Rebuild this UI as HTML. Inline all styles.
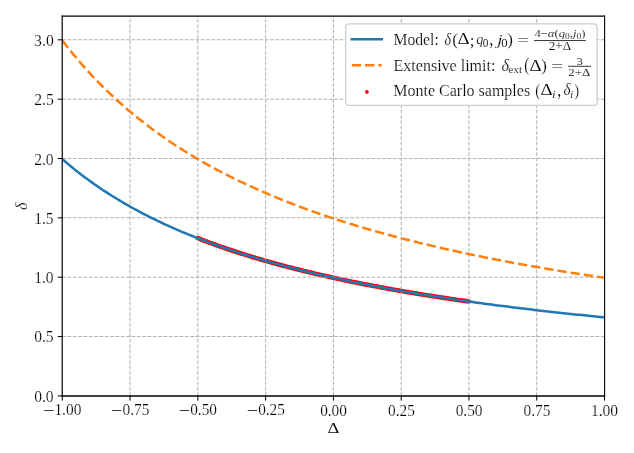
<!DOCTYPE html>
<html><head><meta charset="utf-8"><title>plot</title>
<style>html,body{margin:0;padding:0;background:#fff;}svg{display:block;}</style>
</head><body>
<svg width="634" height="453" viewBox="0 0 634 453">
<rect x="0" y="0" width="634" height="453" fill="#ffffff"/>
<defs><clipPath id="ax"><rect x="62.30" y="16.06" width="542.20" height="379.84"/></clipPath></defs>
<g clip-path="url(#ax)">
<path d="M197.85,238.23 L200.13,239.12 L202.41,239.99 L204.68,240.85 L206.96,241.70 L209.24,242.55 L211.52,243.38 L213.80,244.21 L216.08,245.02 L218.35,245.83 L220.63,246.63 L222.91,247.42 L225.19,248.20 L227.47,248.98 L229.74,249.74 L232.02,250.50 L234.30,251.25 L236.58,252.00 L238.86,252.73 L241.13,253.46 L243.41,254.18 L245.69,254.89 L247.97,255.60 L250.25,256.30 L252.53,256.99 L254.80,257.68 L257.08,258.36 L259.36,259.03 L261.64,259.69 L263.92,260.35 L266.19,261.01 L268.47,261.65 L270.75,262.29 L273.03,262.93 L275.31,263.56 L277.59,264.18 L279.86,264.80 L282.14,265.41 L284.42,266.01 L286.70,266.61 L288.98,267.21 L291.25,267.80 L293.53,268.38 L295.81,268.96 L298.09,269.53 L300.37,270.10 L302.64,270.66 L304.92,271.22 L307.20,271.77 L309.48,272.32 L311.76,272.86 L314.04,273.40 L316.31,273.94 L318.59,274.47 L320.87,274.99 L323.15,275.51 L325.43,276.03 L327.70,276.54 L329.98,277.05 L332.26,277.55 L334.54,278.05 L336.82,278.54 L339.10,279.03 L341.37,279.52 L343.65,280.00 L345.93,280.48 L348.21,280.96 L350.49,281.43 L352.76,281.89 L355.04,282.36 L357.32,282.82 L359.60,283.27 L361.88,283.72 L364.16,284.17 L366.43,284.62 L368.71,285.06 L370.99,285.50 L373.27,285.93 L375.55,286.36 L377.82,286.79 L380.10,287.21 L382.38,287.63 L384.66,288.05 L386.94,288.47 L389.21,288.88 L391.49,289.29 L393.77,289.69 L396.05,290.09 L398.33,290.49 L400.61,290.89 L402.88,291.28 L405.16,291.67 L407.44,292.06 L409.72,292.45 L412.00,292.83 L414.27,293.21 L416.55,293.58 L418.83,293.96 L421.11,294.33 L423.39,294.70 L425.67,295.06 L427.94,295.42 L430.22,295.78 L432.50,296.14 L434.78,296.50 L437.06,296.85 L439.33,297.20 L441.61,297.55 L443.89,297.89 L446.17,298.24 L448.45,298.58 L450.72,298.92 L453.00,299.25 L455.28,299.59 L457.56,299.92 L459.84,300.25 L462.12,300.57 L464.39,300.90 L466.67,301.22 L468.95,301.54" stroke="#ff0000" stroke-width="4.6" stroke-linecap="round" fill="none"/>
<path d="M130.07,395.90V16.06 M197.85,395.90V16.06 M265.62,395.90V16.06 M333.40,395.90V16.06 M401.18,395.90V16.06 M468.95,395.90V16.06 M536.73,395.90V16.06 M62.30,336.55H604.50 M62.30,277.20H604.50 M62.30,217.85H604.50 M62.30,158.50H604.50 M62.30,99.15H604.50 M62.30,39.80H604.50" stroke="#b0b0b0" stroke-width="1.006" stroke-dasharray="3.722 1.610" fill="none"/>
<path d="M62.30,159.10 L64.57,161.07 L66.84,163.01 L69.11,164.91 L71.37,166.79 L73.64,168.63 L75.91,170.45 L78.18,172.24 L80.45,174.00 L82.72,175.73 L84.99,177.43 L87.25,179.11 L89.52,180.76 L91.79,182.39 L94.06,184.00 L96.33,185.58 L98.60,187.13 L100.87,188.67 L103.14,190.18 L105.40,191.67 L107.67,193.14 L109.94,194.58 L112.21,196.01 L114.48,197.42 L116.75,198.80 L119.02,200.17 L121.28,201.52 L123.55,202.85 L125.82,204.17 L128.09,205.46 L130.36,206.74 L132.63,208.00 L134.90,209.24 L137.16,210.47 L139.43,211.68 L141.70,212.88 L143.97,214.06 L146.24,215.23 L148.51,216.38 L150.78,217.51 L153.04,218.64 L155.31,219.74 L157.58,220.84 L159.85,221.92 L162.12,222.99 L164.39,224.04 L166.66,225.08 L168.93,226.11 L171.19,227.13 L173.46,228.14 L175.73,229.13 L178.00,230.11 L180.27,231.08 L182.54,232.04 L184.81,232.99 L187.07,233.93 L189.34,234.85 L191.61,235.77 L193.88,236.67 L196.15,237.57 L198.42,238.45 L200.69,239.33 L202.95,240.20 L205.22,241.05 L207.49,241.90 L209.76,242.74 L212.03,243.57 L214.30,244.39 L216.57,245.20 L218.83,246.00 L221.10,246.79 L223.37,247.58 L225.64,248.36 L227.91,249.13 L230.18,249.89 L232.45,250.64 L234.72,251.39 L236.98,252.13 L239.25,252.86 L241.52,253.58 L243.79,254.30 L246.06,255.01 L248.33,255.71 L250.60,256.40 L252.86,257.09 L255.13,257.77 L257.40,258.45 L259.67,259.12 L261.94,259.78 L264.21,260.44 L266.48,261.09 L268.74,261.73 L271.01,262.37 L273.28,263.00 L275.55,263.62 L277.82,264.24 L280.09,264.86 L282.36,265.46 L284.62,266.07 L286.89,266.66 L289.16,267.25 L291.43,267.84 L293.70,268.42 L295.97,269.00 L298.24,269.57 L300.51,270.13 L302.77,270.69 L305.04,271.25 L307.31,271.80 L309.58,272.35 L311.85,272.89 L314.12,273.42 L316.39,273.95 L318.65,274.48 L320.92,275.00 L323.19,275.52 L325.46,276.04 L327.73,276.55 L330.00,277.05 L332.27,277.55 L334.53,278.05 L336.80,278.54 L339.07,279.03 L341.34,279.51 L343.61,279.99 L345.88,280.47 L348.15,280.94 L350.41,281.41 L352.68,281.88 L354.95,282.34 L357.22,282.80 L359.49,283.25 L361.76,283.70 L364.03,284.15 L366.29,284.59 L368.56,285.03 L370.83,285.47 L373.10,285.90 L375.37,286.33 L377.64,286.75 L379.91,287.18 L382.18,287.60 L384.44,288.01 L386.71,288.43 L388.98,288.84 L391.25,289.24 L393.52,289.65 L395.79,290.05 L398.06,290.45 L400.32,290.84 L402.59,291.23 L404.86,291.62 L407.13,292.01 L409.40,292.39 L411.67,292.77 L413.94,293.15 L416.20,293.53 L418.47,293.90 L420.74,294.27 L423.01,294.64 L425.28,295.00 L427.55,295.36 L429.82,295.72 L432.08,296.08 L434.35,296.43 L436.62,296.78 L438.89,297.13 L441.16,297.48 L443.43,297.82 L445.70,298.17 L447.97,298.51 L450.23,298.84 L452.50,299.18 L454.77,299.51 L457.04,299.84 L459.31,300.17 L461.58,300.50 L463.85,300.82 L466.11,301.14 L468.38,301.46 L470.65,301.78 L472.92,302.09 L475.19,302.41 L477.46,302.72 L479.73,303.03 L481.99,303.33 L484.26,303.64 L486.53,303.94 L488.80,304.24 L491.07,304.54 L493.34,304.84 L495.61,305.13 L497.87,305.43 L500.14,305.72 L502.41,306.01 L504.68,306.30 L506.95,306.58 L509.22,306.87 L511.49,307.15 L513.76,307.43 L516.02,307.71 L518.29,307.98 L520.56,308.26 L522.83,308.53 L525.10,308.81 L527.37,309.08 L529.64,309.34 L531.90,309.61 L534.17,309.88 L536.44,310.14 L538.71,310.40 L540.98,310.66 L543.25,310.92 L545.52,311.18 L547.78,311.43 L550.05,311.69 L552.32,311.94 L554.59,312.19 L556.86,312.44 L559.13,312.69 L561.40,312.94 L563.66,313.18 L565.93,313.43 L568.20,313.67 L570.47,313.91 L572.74,314.15 L575.01,314.39 L577.28,314.63 L579.55,314.86 L581.81,315.10 L584.08,315.33 L586.35,315.56 L588.62,315.79 L590.89,316.02 L593.16,316.25 L595.43,316.47 L597.69,316.70 L599.96,316.92 L602.23,317.15 L604.50,317.37" stroke="#1f77b4" stroke-width="2.515" fill="none" stroke-linejoin="round"/>
<path d="M62.30,40.40 L64.57,43.36 L66.84,46.26 L69.11,49.12 L71.37,51.93 L73.64,54.70 L75.91,57.42 L78.18,60.11 L80.45,62.74 L82.72,65.34 L84.99,67.90 L87.25,70.42 L89.52,72.90 L91.79,75.34 L94.06,77.74 L96.33,80.11 L98.60,82.45 L100.87,84.75 L103.14,87.02 L105.40,89.25 L107.67,91.45 L109.94,93.62 L112.21,95.77 L114.48,97.88 L116.75,99.96 L119.02,102.01 L121.28,104.03 L123.55,106.03 L125.82,108.00 L128.09,109.94 L130.36,111.86 L132.63,113.75 L134.90,115.62 L137.16,117.46 L139.43,119.28 L141.70,121.07 L143.97,122.84 L146.24,124.59 L148.51,126.32 L150.78,128.02 L153.04,129.70 L155.31,131.37 L157.58,133.01 L159.85,134.63 L162.12,136.23 L164.39,137.81 L166.66,139.38 L168.93,140.92 L171.19,142.45 L173.46,143.95 L175.73,145.44 L178.00,146.92 L180.27,148.37 L182.54,149.81 L184.81,151.23 L187.07,152.64 L189.34,154.03 L191.61,155.40 L193.88,156.76 L196.15,158.10 L198.42,159.43 L200.69,160.74 L202.95,162.04 L205.22,163.33 L207.49,164.60 L209.76,165.86 L212.03,167.10 L214.30,168.33 L216.57,169.55 L218.83,170.75 L221.10,171.94 L223.37,173.12 L225.64,174.29 L227.91,175.44 L230.18,176.58 L232.45,177.71 L234.72,178.83 L236.98,179.94 L239.25,181.04 L241.52,182.12 L243.79,183.20 L246.06,184.26 L248.33,185.31 L250.60,186.36 L252.86,187.39 L255.13,188.41 L257.40,189.42 L259.67,190.43 L261.94,191.42 L264.21,192.40 L266.48,193.38 L268.74,194.34 L271.01,195.30 L273.28,196.25 L275.55,197.18 L277.82,198.11 L280.09,199.03 L282.36,199.95 L284.62,200.85 L286.89,201.75 L289.16,202.63 L291.43,203.51 L293.70,204.38 L295.97,205.25 L298.24,206.10 L300.51,206.95 L302.77,207.79 L305.04,208.62 L307.31,209.45 L309.58,210.27 L311.85,211.08 L314.12,211.88 L316.39,212.68 L318.65,213.47 L320.92,214.26 L323.19,215.03 L325.46,215.80 L327.73,216.57 L330.00,217.33 L332.27,218.08 L334.53,218.82 L336.80,219.56 L339.07,220.29 L341.34,221.02 L343.61,221.74 L345.88,222.46 L348.15,223.16 L350.41,223.87 L352.68,224.56 L354.95,225.26 L357.22,225.94 L359.49,226.62 L361.76,227.30 L364.03,227.97 L366.29,228.63 L368.56,229.29 L370.83,229.95 L373.10,230.60 L375.37,231.24 L377.64,231.88 L379.91,232.52 L382.18,233.15 L384.44,233.77 L386.71,234.39 L388.98,235.00 L391.25,235.62 L393.52,236.22 L395.79,236.82 L398.06,237.42 L400.32,238.01 L402.59,238.60 L404.86,239.18 L407.13,239.76 L409.40,240.34 L411.67,240.91 L413.94,241.48 L416.20,242.04 L418.47,242.60 L420.74,243.15 L423.01,243.70 L425.28,244.25 L427.55,244.79 L429.82,245.33 L432.08,245.87 L434.35,246.40 L436.62,246.93 L438.89,247.45 L441.16,247.97 L443.43,248.49 L445.70,249.00 L447.97,249.51 L450.23,250.01 L452.50,250.52 L454.77,251.02 L457.04,251.51 L459.31,252.00 L461.58,252.49 L463.85,252.98 L466.11,253.46 L468.38,253.94 L470.65,254.42 L472.92,254.89 L475.19,255.36 L477.46,255.83 L479.73,256.29 L481.99,256.75 L484.26,257.21 L486.53,257.66 L488.80,258.11 L491.07,258.56 L493.34,259.01 L495.61,259.45 L497.87,259.89 L500.14,260.33 L502.41,260.76 L504.68,261.19 L506.95,261.62 L509.22,262.05 L511.49,262.47 L513.76,262.89 L516.02,263.31 L518.29,263.73 L520.56,264.14 L522.83,264.55 L525.10,264.96 L527.37,265.36 L529.64,265.77 L531.90,266.17 L534.17,266.56 L536.44,266.96 L538.71,267.35 L540.98,267.74 L543.25,268.13 L545.52,268.52 L547.78,268.90 L550.05,269.28 L552.32,269.66 L554.59,270.04 L556.86,270.41 L559.13,270.79 L561.40,271.16 L563.66,271.53 L565.93,271.89 L568.20,272.25 L570.47,272.62 L572.74,272.98 L575.01,273.33 L577.28,273.69 L579.55,274.04 L581.81,274.39 L584.08,274.74 L586.35,275.09 L588.62,275.44 L590.89,275.78 L593.16,276.12 L595.43,276.46 L597.69,276.80 L599.96,277.13 L602.23,277.47 L604.50,277.80" stroke="#ff7f0e" stroke-width="2.515" fill="none" stroke-dasharray="9.306 4.024"/>
</g>
<path d="M61.6,16.2H605.15" stroke="#000" stroke-width="1.2" fill="none"/>
<path d="M61.6,396.0H605.15" stroke="#000" stroke-width="1.4" fill="none"/>
<path d="M62.2,15.6V396.7" stroke="#000" stroke-width="1.2" fill="none"/>
<path d="M604.6,15.6V396.7" stroke="#000" stroke-width="1.1" fill="none"/>
<path d="M62.30,395.90v4.7 M130.07,395.90v4.7 M197.85,395.90v4.7 M265.62,395.90v4.7 M333.40,395.90v4.7 M401.18,395.90v4.7 M468.95,395.90v4.7 M536.73,395.90v4.7 M604.50,395.90v4.7 M62.30,395.90h-4.6 M62.30,336.55h-4.6 M62.30,277.20h-4.6 M62.30,217.85h-4.6 M62.30,158.50h-4.6 M62.30,99.15h-4.6 M62.30,39.80h-4.6" stroke="#000" stroke-width="1.0" fill="none"/>
<rect x="345.7" y="23.8" width="251.40" height="81.60" rx="3.2" ry="3.2" fill="#ffffff" stroke="#cccccc" stroke-width="1.25"/>
<path d="M351.76,39.3H381.74" stroke="#1f77b4" stroke-width="2.515" fill="none" stroke-linecap="square"/>
<path d="M351.76,65.35H381.74" stroke="#ff7f0e" stroke-width="2.515" fill="none" stroke-dasharray="9.306 4.024"/>
<circle cx="366.9" cy="91.8" r="1.9" fill="#ff0000"/>
<path d="M534.0,40.56H585.8 M568.1,66.3H591.0" stroke="#000" stroke-width="0.8" fill="none"/>
<g font-family="'Liberation Serif', 'DejaVu Serif', serif" fill="#000" stroke="#ffffff" stroke-width="0.2">
<text x="393.44" y="45.07" font-size="15.685" textLength="45.365" lengthAdjust="spacingAndGlyphs">Model:</text>
<text x="444.43" y="45.40" font-size="16.164" font-style="italic" textLength="6.555" lengthAdjust="spacingAndGlyphs">δ</text>
<text x="452.36" y="44.69" font-size="17.746" textLength="5.804" lengthAdjust="spacingAndGlyphs">(</text>
<text x="457.64" y="44.42" font-size="15.675" stroke-width="0.1" textLength="12.087" lengthAdjust="spacingAndGlyphs">Δ</text>
<text x="469.80" y="45.90" font-size="16.090" textLength="4.706" lengthAdjust="spacingAndGlyphs">;</text>
<text x="476.33" y="44.45" font-size="15.074" font-style="italic" textLength="7.092" lengthAdjust="spacingAndGlyphs">q</text>
<text x="482.85" y="47.21" font-size="12.298" stroke-width="0.12" textLength="5.687" lengthAdjust="spacingAndGlyphs">0</text>
<text x="489.14" y="44.51" font-size="20.454" textLength="4.102" lengthAdjust="spacingAndGlyphs">,</text>
<text x="497.07" y="44.58" font-size="14.852" font-style="italic" textLength="5.570" lengthAdjust="spacingAndGlyphs">j</text>
<text x="501.22" y="47.21" font-size="12.260" stroke-width="0.12" textLength="6.383" lengthAdjust="spacingAndGlyphs">0</text>
<text x="507.35" y="44.72" font-size="17.691" textLength="5.685" lengthAdjust="spacingAndGlyphs">)</text>
<text x="517.05" y="45.82" font-size="16.007" textLength="12.136" lengthAdjust="spacingAndGlyphs">=</text>
<text x="534.40" y="37.18" font-size="10.600" stroke-width="0.12" textLength="51.172" lengthAdjust="spacingAndGlyphs">4−<tspan font-style="italic">α</tspan>(<tspan font-style="italic">q</tspan><tspan font-size="8" dy="1.6">0</tspan><tspan dy="-1.6">,</tspan><tspan font-style="italic">j</tspan><tspan font-size="8" dy="1.6">0</tspan><tspan dy="-1.6">)</tspan></text>
<text x="548.80" y="49.54" font-size="11.496" stroke-width="0.12" textLength="22.302" lengthAdjust="spacingAndGlyphs">2+Δ</text>
<text x="393.60" y="70.85" font-size="16.000">Extensive limit:</text>
<text x="501.60" y="71.09" font-size="16.687" font-style="italic" textLength="7.490" lengthAdjust="spacingAndGlyphs">δ</text>
<text x="508.24" y="72.64" font-size="9.381" stroke-width="0.12" textLength="13.810" lengthAdjust="spacingAndGlyphs">ext</text>
<text x="524.25" y="70.74" font-size="17.951" textLength="5.013" lengthAdjust="spacingAndGlyphs">(</text>
<text x="529.57" y="70.50" font-size="16.043" stroke-width="0.1" textLength="12.185" lengthAdjust="spacingAndGlyphs">Δ</text>
<text x="541.19" y="70.84" font-size="17.482" textLength="5.644" lengthAdjust="spacingAndGlyphs">)</text>
<text x="551.12" y="71.92" font-size="16.007" textLength="12.148" lengthAdjust="spacingAndGlyphs">=</text>
<text x="576.45" y="65.06" font-size="10.784" stroke-width="0.12" textLength="6.367" lengthAdjust="spacingAndGlyphs">3</text>
<text x="568.37" y="76.37" font-size="10.654" stroke-width="0.12" textLength="22.069" lengthAdjust="spacingAndGlyphs">2+Δ</text>
<text x="393.25" y="96.40" font-size="16.000">Monte Carlo samples</text>
<text x="535.37" y="95.76" font-size="16.253" textLength="4.782" lengthAdjust="spacingAndGlyphs">(</text>
<text x="540.50" y="95.40" font-size="15.675" stroke-width="0.1" textLength="12.119" lengthAdjust="spacingAndGlyphs">Δ</text>
<text x="552.12" y="97.76" font-size="10.738" stroke-width="0.12" font-style="italic" textLength="3.673" lengthAdjust="spacingAndGlyphs">i</text>
<text x="556.90" y="96.03" font-size="17.974" textLength="4.408" lengthAdjust="spacingAndGlyphs">,</text>
<text x="563.47" y="94.85" font-size="16.107" font-style="italic" textLength="7.018" lengthAdjust="spacingAndGlyphs">δ</text>
<text x="570.01" y="97.78" font-size="11.102" stroke-width="0.12" font-style="italic" textLength="3.221" lengthAdjust="spacingAndGlyphs">i</text>
<text x="574.55" y="95.64" font-size="17.167" textLength="4.521" lengthAdjust="spacingAndGlyphs">)</text>
<text x="34.18" y="402.16" font-size="16.325" textLength="19.461" lengthAdjust="spacingAndGlyphs">0.0</text>
<text x="34.13" y="342.25" font-size="16.007" textLength="19.493" lengthAdjust="spacingAndGlyphs">0.5</text>
<text x="34.23" y="283.03" font-size="16.125" textLength="19.424" lengthAdjust="spacingAndGlyphs">1.0</text>
<text x="34.18" y="223.95" font-size="16.000" textLength="19.458" lengthAdjust="spacingAndGlyphs">1.5</text>
<text x="34.16" y="164.70" font-size="16.183" textLength="19.534" lengthAdjust="spacingAndGlyphs">2.0</text>
<text x="34.16" y="104.85" font-size="16.000" textLength="19.567" lengthAdjust="spacingAndGlyphs">2.5</text>
<text x="34.10" y="45.66" font-size="16.154" textLength="19.650" lengthAdjust="spacingAndGlyphs">3.0</text>
<text x="43.27" y="416.20" font-size="16.000" stroke="none" textLength="11.424" lengthAdjust="spacingAndGlyphs">−</text>
<text x="54.39" y="414.76" font-size="16.066" textLength="27.032" lengthAdjust="spacingAndGlyphs">1.00</text>
<text x="111.03" y="416.20" font-size="16.000" stroke="none" textLength="11.427" lengthAdjust="spacingAndGlyphs">−</text>
<text x="122.51" y="414.80" font-size="16.000" textLength="26.822" lengthAdjust="spacingAndGlyphs">0.75</text>
<text x="178.82" y="416.20" font-size="16.000" stroke="none" textLength="11.448" lengthAdjust="spacingAndGlyphs">−</text>
<text x="190.21" y="414.80" font-size="16.000" textLength="26.798" lengthAdjust="spacingAndGlyphs">0.50</text>
<text x="246.73" y="416.20" font-size="16.000" stroke="none" textLength="11.390" lengthAdjust="spacingAndGlyphs">−</text>
<text x="258.13" y="414.80" font-size="16.000" textLength="26.712" lengthAdjust="spacingAndGlyphs">0.25</text>
<text x="320.13" y="415.69" font-size="16.198" textLength="26.763" lengthAdjust="spacingAndGlyphs">0.00</text>
<text x="388.01" y="415.80" font-size="16.000" textLength="26.795" lengthAdjust="spacingAndGlyphs">0.25</text>
<text x="455.65" y="415.80" font-size="16.000" textLength="26.874" lengthAdjust="spacingAndGlyphs">0.50</text>
<text x="523.49" y="415.80" font-size="16.000" textLength="26.905" lengthAdjust="spacingAndGlyphs">0.75</text>
<text x="590.94" y="415.70" font-size="16.191" textLength="27.211" lengthAdjust="spacingAndGlyphs">1.00</text>
<text x="327.56" y="433.40" font-size="15.640" stroke-width="0.1" textLength="11.941" lengthAdjust="spacingAndGlyphs">Δ</text>
<text transform="translate(27.20,210.06) rotate(-90)" font-size="16.322" font-style="italic">δ</text>
</g>
</svg>
</body></html>
